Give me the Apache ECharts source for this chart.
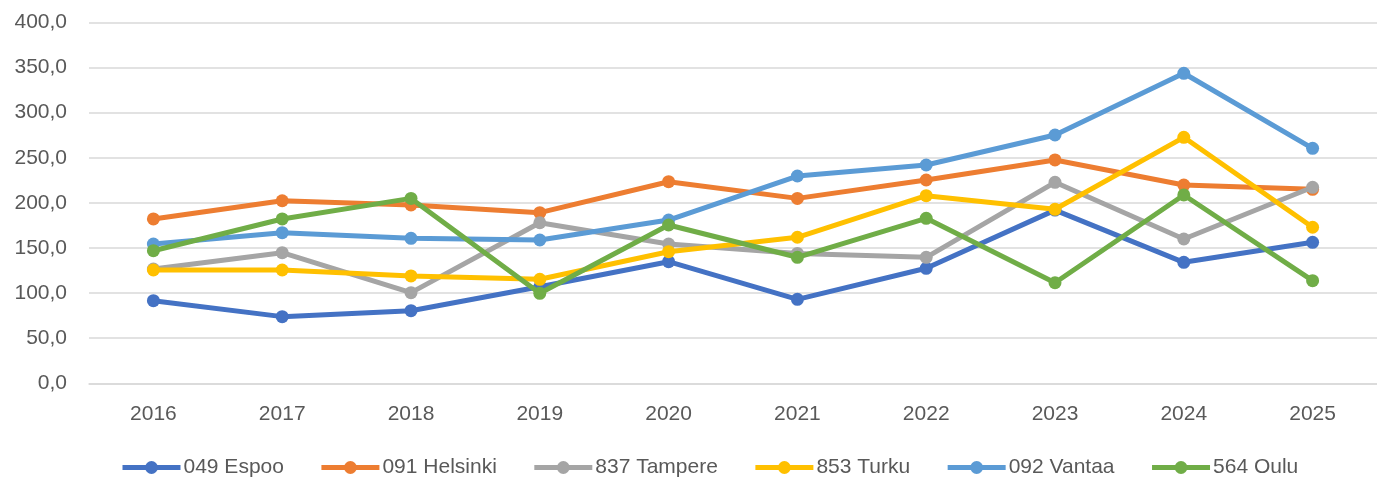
<!DOCTYPE html>
<html>
<head>
<meta charset="utf-8">
<script src="https://cdn.jsdelivr.net/npm/echarts@6/dist/echarts.min.js"></script>
<style>
html,body{margin:0;padding:0;background:#fff;}
#chart{width:1377px;height:477px;}
</style>
</head>
<body>
<div id="chart"></div>
<script>
const years = ['2016','2017','2018','2019','2020','2021','2022','2023','2024','2025'];
const seriesNames = ['049 Espoo','091 Helsinki','837 Tampere','853 Turku','092 Vantaa','564 Oulu'];
const colors = ['#4472C4','#ED7D31','#A5A5A5','#FFC000','#5B9BD5','#70AD47'];
const espoo    = [91.6, 73.9, 80.5, 107.0, 134.8, 93.1, 127.5, 192.0, 134.1, 156.3];
const helsinki = [182.2, 202.4, 197.7, 189.2, 223.5, 205.0, 225.4, 247.6, 219.8, 215.0];
const tampere  = [126.7, 144.8, 100.5, 178.0, 154.4, 144.0, 139.7, 222.8, 160.0, 217.3];
const turku    = [125.6, 125.6, 119.0, 115.3, 145.9, 161.9, 208.0, 192.9, 272.7, 173.0];
const vantaa   = [154.4, 167.0, 160.7, 158.9, 181.0, 229.8, 242.0, 275.3, 343.7, 260.5];
const oulu     = [147.0, 182.2, 205.0, 99.8, 175.5, 139.7, 182.9, 111.5, 208.8, 113.8];
const allValues = [espoo, helsinki, tampere, turku, vantaa, oulu];

const chart = echarts.init(document.getElementById('chart'), null, {renderer:'canvas'});
const font = 'Liberation Sans, Arial, sans-serif';
chart.setOption({
  animation:false,
  grid:{left:89, top:22.5, width:1301, height:360.8, containLabel:false},
  legend:{
    top:457, left:120, padding:0,
    itemWidth:58, itemHeight:16, itemGap:35,
    lineStyle:{width:5},
    textStyle:{fontFamily:font, fontSize:21, color:'#595959', padding:[0,0,0,-2]},
    data:seriesNames
  },
  xAxis:{
    type:'category', data:years, boundaryGap:true,
    axisLine:{lineStyle:{color:'#D9D9D9', width:1.5}},
    axisTick:{show:false},
    axisLabel:{fontFamily:font, fontSize:21, color:'#595959', margin:20}
  },
  yAxis:{
    type:'value', min:0, max:400, interval:50,
    axisLine:{show:false}, axisTick:{show:false},
    splitLine:{lineStyle:{color:'#D9D9D9', width:1.5}},
    axisLabel:{fontFamily:font, fontSize:21, color:'#595959', margin:22,
      formatter:v=>v.toFixed(1).replace('.',',')}
  },
  series: seriesNames.map((n,i)=>({
    name:n, type:'line', data:allValues[i],
    symbol:'circle', symbolSize:13,
    lineStyle:{color:colors[i], width:5},
    itemStyle:{color:colors[i]},
    z:2+i
  }))
});
</script>
</body>
</html>
